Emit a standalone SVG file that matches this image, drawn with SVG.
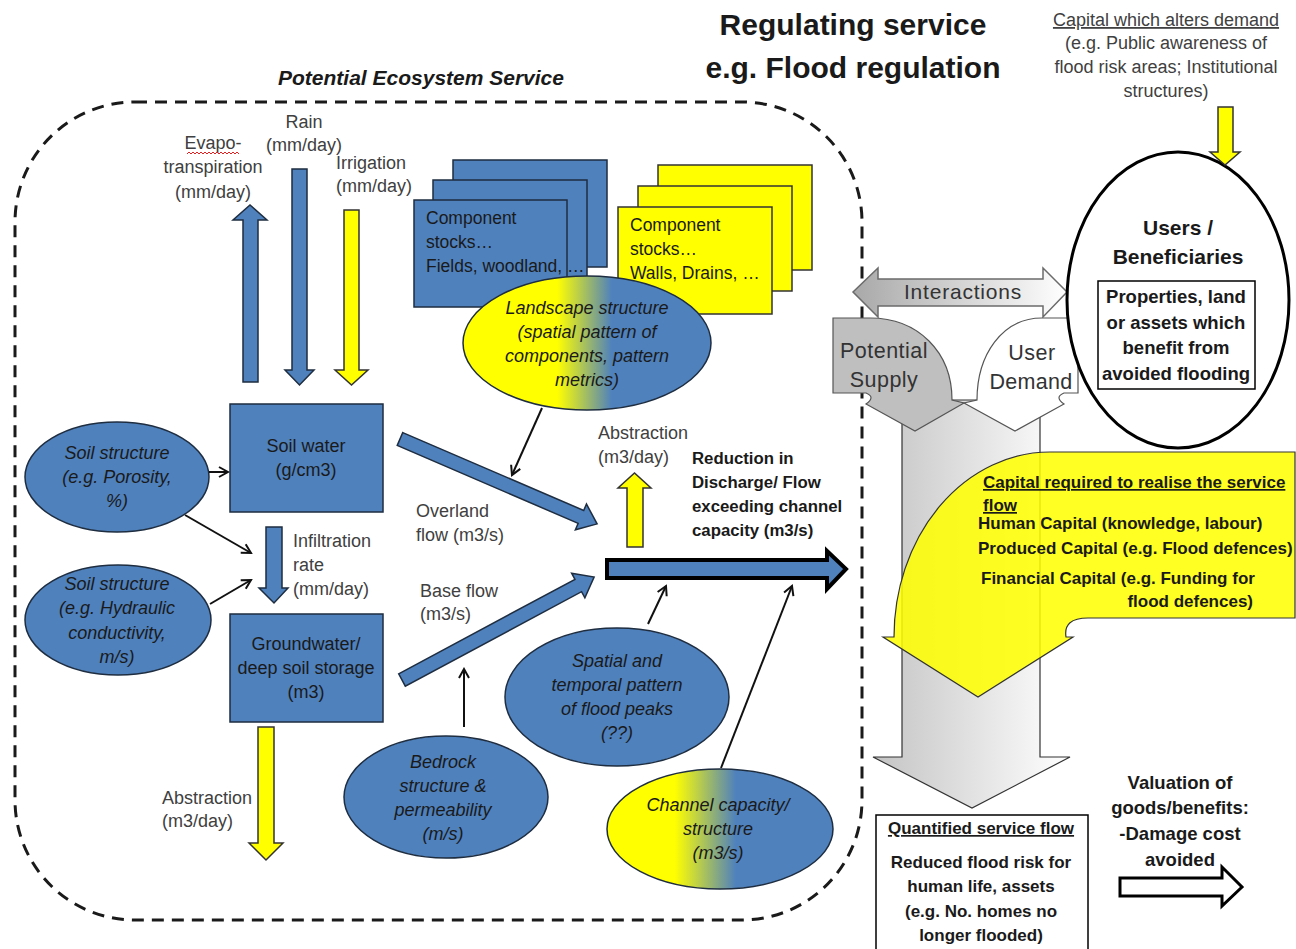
<svg xmlns="http://www.w3.org/2000/svg" width="1296" height="949" viewBox="0 0 1296 949">
<style>
text{font-family:"Liberation Sans",Arial,sans-serif;}
.lbl{font-size:18px;fill:#404040;text-anchor:middle;}
.ll{font-size:18px;fill:#404040;}
.nt{font-size:18px;fill:#1a1a1a;text-anchor:middle;}
.it{font-style:italic;}
.bd{font-weight:bold;fill:#1a1a1a;}
.blue{fill:#4f81bd;stroke:#1e2d40;stroke-width:1.5;}
.yel{fill:#ffff00;stroke:#333;stroke-width:1.5;}
.thin{stroke:#111;stroke-width:2;fill:none;marker-end:url(#vh);}
.ul{text-decoration:underline;}
</style>
<defs>
<marker id="vh" viewBox="0 0 12 12" refX="10" refY="6" markerWidth="12" markerHeight="12" markerUnits="userSpaceOnUse" orient="auto">
<path d="M1,1 L10,6 L1,11" fill="none" stroke="#111" stroke-width="2"/>
</marker>
<linearGradient id="landGrad" x1="0" y1="0" x2="1" y2="0">
<stop offset="0" stop-color="#ffff00"/><stop offset="0.38" stop-color="#ffff00"/><stop offset="0.6" stop-color="#4f81bd"/><stop offset="1" stop-color="#4f81bd"/>
</linearGradient>
<linearGradient id="chanGrad" x1="0" y1="0" x2="1" y2="0">
<stop offset="0" stop-color="#ffff00"/><stop offset="0.3" stop-color="#ffff00"/><stop offset="0.57" stop-color="#4f81bd"/><stop offset="1" stop-color="#4f81bd"/>
</linearGradient>
<linearGradient id="grayGrad" x1="0" y1="0" x2="1" y2="0">
<stop offset="0" stop-color="#c4c4c4"/><stop offset="1" stop-color="#ffffff"/>
</linearGradient>
<linearGradient id="intGrad" x1="0" y1="0" x2="1" y2="0">
<stop offset="0" stop-color="#a8a8a8"/><stop offset="1" stop-color="#ffffff"/>
</linearGradient>
</defs>

<rect width="1296" height="949" fill="#ffffff"/>

<!-- dashed boundary -->
<rect id="boundary" x="15" y="102" width="847" height="818" rx="120" ry="120" fill="none" stroke="#1a1a1a" stroke-width="3" stroke-dasharray="12 8"/>

<g id="titles">
<text x="853" y="35" font-size="30" font-weight="bold" fill="#1a1a1a" text-anchor="middle">Regulating service</text>
<text x="853" y="78" font-size="30" font-weight="bold" fill="#1a1a1a" text-anchor="middle">e.g. Flood regulation</text>
<text x="421" y="85" font-size="21" font-weight="bold" font-style="italic" fill="#1a1a1a" text-anchor="middle">Potential Ecosystem Service</text>
</g>

<!-- vertical flux arrows -->
<g id="evapotranspiration">
<polygon class="blue" points="243,382 243,220 233,220 250,205 267,220 258,220 258,382"/>
<text class="lbl" x="213" y="149" font-size="17.5">Evapo-</text>
<path d="M187,154 l2,-2 l2,2 l2,-2 l2,2 l2,-2 l2,2 l2,-2 l2,2 l2,-2 l2,2 l2,-2 l2,2 l2,-2 l2,2 l2,-2 l2,2 l2,-2 l2,2 l2,-2 l2,2 l2,-2 l2,2 l2,-2 l2,2 l2,-2 l2,2" fill="none" stroke="#e02020" stroke-width="1"/>
<text class="lbl" x="213" y="173">transpiration</text>
<text class="lbl" x="213" y="198">(mm/day)</text>
</g>
<g id="rain">
<polygon class="blue" points="292,169 307,169 307,370 314,370 299.5,385 285,370 292,370"/>
<text class="lbl" x="304" y="128">Rain</text>
<text class="lbl" x="304" y="151">(mm/day)</text>
</g>
<g id="irrigation">
<polygon class="yel" points="344,210 359,210 359,370 368,370 351.5,385 335,370 344,370"/>
<text class="lbl" x="371" y="169">Irrigation</text>
<text class="lbl" x="374" y="192">(mm/day)</text>
</g>

<!-- component stocks -->
<g id="stocks-blue">
<rect class="blue" x="453" y="160" width="154" height="107"/>
<rect class="blue" x="433" y="180" width="154" height="107"/>
<rect class="blue" x="414" y="200" width="153" height="107"/>
<text x="426" y="224" font-size="17.5" fill="#1a1a1a">Component</text>
<text x="426" y="248" font-size="17.5" fill="#1a1a1a">stocks…</text>
<text x="426" y="272" font-size="17.5" fill="#1a1a1a">Fields, woodland, …</text>
</g>
<g id="stocks-yellow">
<rect class="yel" x="658" y="165" width="154" height="105"/>
<rect class="yel" x="638" y="186" width="154" height="105"/>
<rect class="yel" x="618" y="207" width="154" height="107"/>
<text x="630" y="231" font-size="17.5" fill="#1a1a1a">Component</text>
<text x="630" y="255" font-size="17.5" fill="#1a1a1a">stocks…</text>
<text x="630" y="279" font-size="17.5" fill="#1a1a1a">Walls, Drains, …</text>
</g>
<g id="landscape">
<ellipse cx="587" cy="343" rx="124" ry="67" fill="url(#landGrad)" stroke="#1e2d40" stroke-width="1.5"/>
<text class="nt it" x="587" y="314">Landscape structure</text>
<text class="nt it" x="587" y="338">(spatial pattern of</text>
<text class="nt it" x="587" y="362">components, pattern</text>
<text class="nt it" x="587" y="386">metrics)</text>
</g>

<!-- soil boxes -->
<g id="soil-water">
<rect class="blue" x="230" y="404" width="153" height="108"/>
<text class="nt" x="306" y="452">Soil water</text>
<text class="nt" x="306" y="476">(g/cm3)</text>
</g>
<g id="groundwater">
<rect class="blue" x="230" y="614" width="153" height="108"/>
<text class="nt" x="306" y="650">Groundwater/</text>
<text class="nt" x="306" y="674">deep soil storage</text>
<text class="nt" x="306" y="698">(m3)</text>
</g>
<g id="infiltration">
<polygon class="blue" points="266,527 282,527 282,588 288,588 274,603 259,588 266,588"/>
<text class="ll" x="293" y="547">Infiltration</text>
<text class="ll" x="293" y="571">rate</text>
<text class="ll" x="293" y="595">(mm/day)</text>
</g>
<g id="soil-porosity">
<ellipse class="blue" cx="117" cy="477" rx="92" ry="55"/>
<text class="nt it" x="117" y="459">Soil structure</text>
<text class="nt it" x="117" y="483">(e.g. Porosity,</text>
<text class="nt it" x="117" y="507">%)</text>
</g>
<g id="soil-hydraulic">
<ellipse class="blue" cx="118" cy="620" rx="93" ry="55"/>
<text class="nt it" x="117" y="590">Soil structure</text>
<text class="nt it" x="117" y="614">(e.g. Hydraulic</text>
<text class="nt it" x="117" y="639">conductivity,</text>
<text class="nt it" x="117" y="663">m/s)</text>
</g>
<g id="abstraction-ground">
<polygon class="yel" points="258,727 274,727 274,843 283,843 266,860 249,843 258,843"/>
<text class="ll" x="162" y="804">Abstraction</text>
<text class="ll" x="162" y="827">(m3/day)</text>
</g>

<!-- flows -->
<g id="overland-flow">
<polygon class="blue" transform="translate(400,439) rotate(23.3)" points="0,-7 197,-7 197,-14 214.6,0 197,14 197,7 0,7"/>
<text class="ll" x="416" y="517">Overland</text>
<text class="ll" x="416" y="541">flow (m3/s)</text>
</g>
<g id="base-flow">
<polygon class="blue" transform="translate(402,680) rotate(-28.2)" points="0,-7 200,-7 200,-14 218,0 200,14 200,7 0,7"/>
<text class="ll" x="420" y="597">Base flow</text>
<text class="ll" x="420" y="620">(m3/s)</text>
</g>
<g id="abstraction-channel">
<polygon class="yel" points="627,547 627,488 618,488 634.5,473 651,488 643,488 643,547"/>
<text class="ll" x="598" y="439">Abstraction</text>
<text class="ll" x="598" y="463">(m3/day)</text>
</g>
<g id="discharge">
<polygon points="607,560 827,560 827,551 846,569 827,589 827,578 607,578" fill="#4f81bd" stroke="#000" stroke-width="4"/>
<text class="bd" x="692" y="464" font-size="16.8">Reduction in</text>
<text class="bd" x="692" y="488" font-size="16.8">Discharge/ Flow</text>
<text class="bd" x="692" y="512" font-size="16.8">exceeding channel</text>
<text class="bd" x="692" y="536" font-size="16.8">capacity (m3/s)</text>
</g>
<g id="spatial-pattern">
<ellipse class="blue" cx="617" cy="697" rx="112" ry="69"/>
<text class="nt it" x="617" y="667">Spatial and</text>
<text class="nt it" x="617" y="691">temporal pattern</text>
<text class="nt it" x="617" y="715">of flood peaks</text>
<text class="nt it" x="617" y="739">(??)</text>
</g>
<g id="bedrock">
<ellipse class="blue" cx="446" cy="797" rx="102" ry="61"/>
<text class="nt it" x="443" y="768">Bedrock</text>
<text class="nt it" x="443" y="792">structure  &amp;</text>
<text class="nt it" x="443" y="816">permeability</text>
<text class="nt it" x="443" y="840">(m/s)</text>
</g>
<g id="channel">
<ellipse cx="720" cy="829" rx="113" ry="60" fill="url(#chanGrad)" stroke="#1e2d40" stroke-width="1.5"/>
<text class="nt it" x="718" y="811">Channel capacity/</text>
<text class="nt it" x="718" y="835">structure</text>
<text class="nt it" x="718" y="859">(m3/s)</text>
</g>

<!-- thin connectors -->
<g id="connectors">
<line class="thin" x1="209" y1="472" x2="228" y2="472"/>
<line class="thin" x1="185" y1="515" x2="251" y2="553"/>
<line class="thin" x1="210" y1="604" x2="251" y2="580"/>
<line class="thin" x1="542" y1="408" x2="512" y2="475"/>
<line class="thin" x1="464" y1="727" x2="464" y2="669"/>
<line class="thin" x1="648" y1="624" x2="666" y2="586"/>
<line class="thin" x1="721" y1="768" x2="792" y2="586"/>
</g>

<!-- right side: supply/demand -->
<g id="service-flow">
<polygon points="902,400 1040,400 1040,757 1070,757 972,808 873,757 902,757" fill="url(#grayGrad)" stroke="#333" stroke-width="1.2"/>
</g>
<g id="interactions">
<polygon points="853,292 878,268 878,279 1043,279 1043,268 1067,292 1043,317 1043,306 878,306 878,317" fill="url(#intGrad)" stroke="#6b6b6b" stroke-width="1.5"/>
<text x="963" y="299" font-size="21" letter-spacing="0.8" fill="#333" text-anchor="middle">Interactions</text>
</g>
<g id="potential-supply">
<path d="M833,318 L870,318 C918,318 952,352 952,400 L964,403 L915,431 L866,404 Q876,397 866,393 L833,393 Z" fill="#bfbfbf" stroke="#555" stroke-width="1.2"/>
<text x="884" y="358" font-size="21.5" letter-spacing="0.5" fill="#333" text-anchor="middle">Potential</text>
<text x="884" y="387" font-size="21.5" letter-spacing="0.5" fill="#333" text-anchor="middle">Supply</text>
</g>
<g id="user-demand">
<path d="M1078,318 L1042,318 C1002,318 977,355 977,400 L964,403 L1015,431 L1064,404 Q1054,397 1064,393 L1078,393 Z" fill="#ffffff" stroke="#555" stroke-width="1.2"/>
<text x="1032" y="360" font-size="21.5" letter-spacing="0.5" fill="#333" text-anchor="middle">User</text>
<text x="1031" y="389" font-size="21.5" letter-spacing="0.3" fill="#333" text-anchor="middle">Demand</text>
</g>
<g id="users">
<ellipse cx="1178" cy="300" rx="111" ry="148" fill="#ffffff" stroke="#000" stroke-width="3"/>
<text class="bd" x="1178" y="235" font-size="21" text-anchor="middle">Users /</text>
<text class="bd" x="1178" y="264" font-size="21" text-anchor="middle">Beneficiaries</text>
<rect x="1098" y="281" width="157" height="108" fill="none" stroke="#000" stroke-width="1.5"/>
<text class="bd" x="1176" y="303" font-size="18.5" text-anchor="middle">Properties, land</text>
<text class="bd" x="1176" y="329" font-size="18.5" text-anchor="middle">or assets which</text>
<text class="bd" x="1176" y="354" font-size="18.5" text-anchor="middle">benefit from</text>
<text class="bd" x="1176" y="380" font-size="18.5" text-anchor="middle">avoided flooding</text>
</g>
<g id="demand-capital">
<text class="lbl ul" x="1166" y="26">Capital which alters demand</text>
<text class="lbl" x="1166" y="49">(e.g. Public awareness of</text>
<text class="lbl" x="1166" y="73">flood risk areas; Institutional</text>
<text class="lbl" x="1166" y="97">structures)</text>
<polygon class="yel" points="1218,107 1233,107 1233,152 1240,152 1225,165 1210,152 1218,152"/>
</g>
<g id="capital-required">
<path d="M1295,452 L1050,452 A156 185 0 0 0 894,637 L883,637 L978,697 L1073,637 L1066,637 Q1063,618 1088,618 L1295,618 Z" fill="#ffff00" fill-opacity="0.86" stroke="#333" stroke-width="1.2"/>
<text class="bd ul" x="983" y="488" font-size="17">Capital required to realise the service</text>
<text class="bd ul" x="983" y="511" font-size="17">flow</text>
<text class="bd" x="978" y="529" font-size="17">Human Capital (knowledge, labour)</text>
<text class="bd" x="978" y="554" font-size="17">Produced Capital (e.g. Flood defences)</text>
<text class="bd" x="981" y="584" font-size="17">Financial Capital (e.g. Funding for</text>
<text class="bd" x="1253" y="607" font-size="17" text-anchor="end">flood defences)</text>
</g>
<g id="quantified">
<rect x="876" y="815" width="212" height="140" fill="#ffffff" stroke="#000" stroke-width="1.5"/>
<text class="bd ul" x="981" y="834" font-size="17" text-anchor="middle">Quantified service flow</text>
<text class="bd" x="981" y="868" font-size="17" text-anchor="middle">Reduced flood risk for</text>
<text class="bd" x="981" y="892" font-size="17" text-anchor="middle">human life, assets</text>
<text class="bd" x="981" y="917" font-size="17" text-anchor="middle">(e.g. No. homes no</text>
<text class="bd" x="981" y="941" font-size="17" text-anchor="middle">longer flooded)</text>
</g>
<g id="valuation">
<text class="bd" x="1180" y="789" font-size="18.5" text-anchor="middle">Valuation of</text>
<text class="bd" x="1180" y="814" font-size="18.5" text-anchor="middle">goods/benefits:</text>
<text class="bd" x="1180" y="840" font-size="18.5" text-anchor="middle">-Damage cost</text>
<text class="bd" x="1180" y="866" font-size="18.5" text-anchor="middle">avoided</text>
<polygon points="1120,878 1222,878 1222,867 1242,887 1222,906 1222,896 1120,896" fill="#ffffff" stroke="#000" stroke-width="3"/>
</g>
</svg>
